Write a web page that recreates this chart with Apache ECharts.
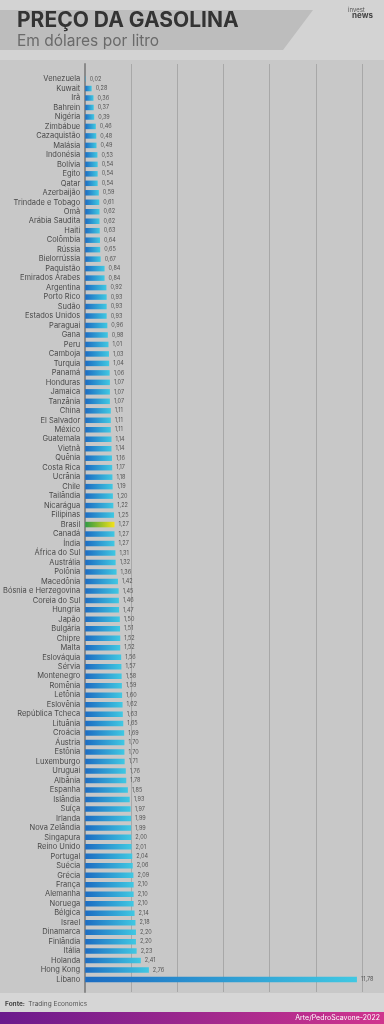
<!DOCTYPE html>
<html><head><meta charset="utf-8">
<script src="https://cdn.jsdelivr.net/npm/echarts@6/dist/echarts.min.js"></script>
<style>html,body{margin:0;padding:0;background:#d3d3d3;}#c{width:384px;height:1024px;}</style>
</head><body><div id="c"></div>
<script>
const countries = ["Venezuela","Kuwait","Irã","Bahrein","Nigéria","Zimbábue","Cazaquistão","Malásia","Indonésia","Bolívia","Egito","Qatar","Azerbaijão","Trindade e Tobago","Omã","Arábia Saudita","Haiti","Colômbia","Rússia","Bielorrússia","Paquistão","Emirados Árabes","Argentina","Porto Rico","Sudão","Estados Unidos","Paraguai","Gana","Peru","Camboja","Turquia","Panamá","Honduras","Jamaica","Tanzânia","China","El Salvador","México","Guatemala","Vietnã","Quênia","Costa Rica","Ucrânia","Chile","Tailândia","Nicarágua","Filipinas","Brasil","Canadá","Índia","África do Sul","Austrália","Polônia","Macedônia","Bósnia e Herzegovina","Coreia do Sul","Hungria","Japão","Bulgária","Chipre","Malta","Eslováquia","Sérvia","Montenegro","Romênia","Letônia","Eslovênia","República Tcheca","Lituânia","Croácia","Áustria","Estônia","Luxemburgo","Uruguai","Albânia","Espanha","Islândia","Suíça","Irlanda","Nova Zelândia","Singapura","Reino Unido","Portugal","Suécia","Grécia","França","Alemanha","Noruega","Bélgica","Israel","Dinamarca","Finlândia","Itália","Holanda","Hong Kong","Líbano"];
const prices = [0.02,0.28,0.36,0.37,0.39,0.46,0.48,0.49,0.53,0.54,0.54,0.54,0.59,0.61,0.62,0.62,0.63,0.64,0.65,0.67,0.84,0.84,0.92,0.93,0.93,0.93,0.96,0.98,1.01,1.03,1.04,1.06,1.07,1.07,1.07,1.11,1.11,1.11,1.14,1.14,1.16,1.17,1.18,1.19,1.20,1.22,1.25,1.27,1.27,1.27,1.31,1.32,1.36,1.42,1.45,1.46,1.47,1.50,1.51,1.52,1.52,1.56,1.57,1.58,1.59,1.60,1.62,1.63,1.65,1.69,1.70,1.70,1.71,1.76,1.78,1.85,1.93,1.97,1.99,1.99,2.00,2.01,2.04,2.06,2.09,2.10,2.10,2.10,2.14,2.18,2.20,2.20,2.23,2.41,2.76,11.78];
const highlight = "Brasil";
const xMin = 0, xMax = 12, xStep = 2;

const blueGrad = new echarts.graphic.LinearGradient(0,0,1,0,[{offset:0,color:'#1c6cc2'},{offset:1,color:'#40c8e2'}]);
const brGrad = new echarts.graphic.LinearGradient(0,0,1,0,[{offset:0,color:'#2f9a45'},{offset:1,color:'#f4e21a'}]);

const seriesData = countries.map((c,i)=>({
  value: prices[i],
  itemStyle: {color: c===highlight ? brGrad : blueGrad}
}));

const chart = echarts.init(document.getElementById('c'), null, {renderer:'canvas'});
chart.setOption({
  animation:false,
  backgroundColor:'#d3d3d3',
  graphic:[
    {type:'rect', z:-10, shape:{x:0,y:60,width:384,height:933}, style:{fill:'#c8c8c8'}},
    {type:'polygon', z:-5, shape:{points:[[0,10],[313,10],[283,50],[0,50]]}, style:{fill:'#bdbdbd'}},
    {type:'text', left:17, top:10, style:{text:'PREÇO DA GASOLINA', font:'bold 21px Inter, "Open Sans", sans-serif', fill:'#333333'}},
    {type:'text', left:17, top:33, style:{text:'Em dólares por litro', font:'15.5px Inter, "Open Sans", sans-serif', fill:'#6a6a6a'}},
    {type:'text', left:348, top:7, style:{text:'invest', font:'6px Inter, sans-serif', fill:'#555'}},
    {type:'text', left:352, top:12, style:{text:'news', font:'bold 8px Inter, sans-serif', fill:'#444'}},
    {type:'rect', z:-5, shape:{x:0,y:993,width:384,height:19}, style:{fill:'#d6d6d6'}},
    {type:'text', left:5, top:998, style:{rich:{b:{font:'bold 6.5px Inter, sans-serif',fill:'#444'},r:{font:'6.5px Inter, sans-serif',fill:'#555'}}, text:'{b|Fonte:} {r|Trading Economics}'}},
    {type:'rect', z:-5, shape:{x:0,y:1012,width:384,height:12}, style:{fill:new echarts.graphic.LinearGradient(0,0,1,0,[{offset:0,color:'#6a1a8c'},{offset:1,color:'#d0358e'}])}},
    {type:'text', right:4, top:1014, style:{text:'Arte/PedroScavone-2022', font:'7px Inter, sans-serif', fill:'#ffffff'}}
  ],
  grid:[
    {left:85, right:22, top:64, bottom:32},
    {left:85, right:22, top:74.3, height:910}
  ],
  xAxis:[
    {gridIndex:0, type:'value', min:xMin, max:xMax, interval:xStep, axisLabel:{show:false}, axisLine:{show:false}, axisTick:{show:false}, splitLine:{show:true, lineStyle:{color:'#a8a8a8', width:1}}},
    {gridIndex:1, type:'value', min:xMin, max:xMax, interval:xStep, axisLabel:{show:false}, axisLine:{show:false}, axisTick:{show:false}, splitLine:{show:false}}
  ],
  yAxis:[
    {gridIndex:0, type:'category', data:[''], axisLabel:{show:false}, axisTick:{show:false}, axisLine:{show:true, lineStyle:{color:'#8a8a8a', width:2}}},
    {gridIndex:1, type:'category', inverse:true, data:countries, axisTick:{show:false}, axisLine:{show:false},
     axisLabel:{interval:0, margin:5, fontSize:7.5, color:'#4a4a4a', fontFamily:'Inter, "Open Sans", sans-serif'}}
  ],
  series:[{
    type:'bar', xAxisIndex:1, yAxisIndex:1, data:seriesData, barWidth:5.5,
    label:{show:true, position:'right', distance:4, fontSize:5.5, color:'#555', fontFamily:'Inter, sans-serif',
      formatter:p=>p.value.toFixed(2).replace('.', ',')}
  }]
});
</script></body></html>
